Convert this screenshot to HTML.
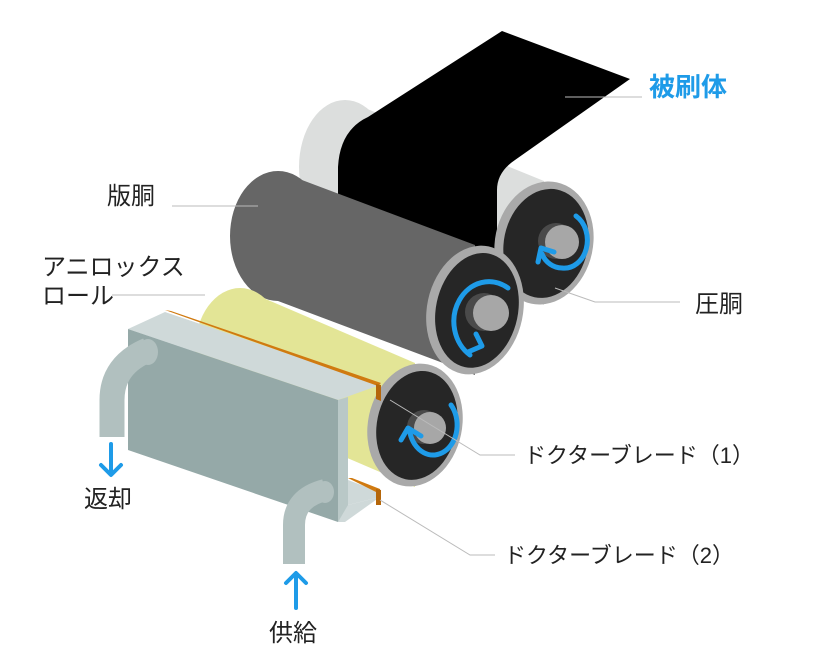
<!DOCTYPE html>
<html><head><meta charset="utf-8"><style>
html,body{margin:0;padding:0;background:#fff;}
svg{display:block}
text{font-family:"Liberation Sans","Noto Sans CJK JP",sans-serif;font-size:24px;fill:#222}
</style></head><body>
<svg width="832" height="672" viewBox="0 0 832 672" xmlns="http://www.w3.org/2000/svg">
<!-- impression cylinder -->
<ellipse cx="345" cy="167" rx="46" ry="67" fill="#dcdedd"/>
<polygon points="345,100 544,181 544,305 345,234" fill="#dcdedd"/>
<!-- paper -->
<path d="M338,250 L338,167 Q340,130 368,117 L502,31 L630,79 L515,160 Q497,172 497,190 L497,290 Z" fill="#000"/>
<!-- impression face -->
<g transform="rotate(12 544 243)">
<ellipse cx="544" cy="243" rx="49" ry="62" fill="#a9a9a9"/>
<ellipse cx="546" cy="243" rx="42" ry="55" fill="#262626"/>
</g>
<circle cx="556" cy="241" r="18" fill="#4a4a4a"/>
<circle cx="562" cy="242" r="17" fill="#a7a7a7"/>
<path d="M576,216 A23,28 0 0 1 562,268 A22,24 0 0 1 542,254" fill="none" stroke="#1e9be8" stroke-width="5" stroke-linecap="round"/>
<path d="M538,262 L541,248 L554,252" fill="none" stroke="#1e9be8" stroke-width="5" stroke-linecap="round" stroke-linejoin="round"/>
<!-- plate cylinder -->
<ellipse cx="278" cy="236" rx="48" ry="65" fill="#666"/>
<polygon points="278,171 475,245 475,375 278,301" fill="#666"/>
<g transform="rotate(12 475 310)">
<ellipse cx="475" cy="310" rx="48" ry="65" fill="#a9a9a9"/>
<ellipse cx="477" cy="310" rx="41" ry="58" fill="#262626"/>
</g>
<circle cx="484" cy="312" r="19" fill="#4a4a4a"/>
<circle cx="491" cy="313" r="18" fill="#a7a7a7"/>
<path d="M508,288 A30,34 0 1 0 470,355" fill="none" stroke="#1e9be8" stroke-width="5" stroke-linecap="round"/>
<path d="M476,334 L482,346 L468,352" fill="none" stroke="#1e9be8" stroke-width="5" stroke-linecap="round" stroke-linejoin="round"/>
<!-- anilox -->
<ellipse cx="240" cy="350" rx="45" ry="62" fill="#e3e596"/>
<polygon points="240,288 415,363 415,487 240,412" fill="#e3e596"/>
<g transform="rotate(12 415 425)">
<ellipse cx="415" cy="425" rx="47" ry="62" fill="#a9a9a9"/>
<ellipse cx="417" cy="425" rx="40" ry="55" fill="#262626"/>
</g>
<circle cx="424" cy="427" r="17" fill="#4a4a4a"/>
<circle cx="430" cy="428" r="16" fill="#a7a7a7"/>
<path d="M451,405 A24,30 0 1 1 410,433" fill="none" stroke="#1e9be8" stroke-width="5" stroke-linecap="round"/>
<path d="M401,440 L408,428 L421,436" fill="none" stroke="#1e9be8" stroke-width="5" stroke-linecap="round" stroke-linejoin="round"/>
<!-- doctor chamber box -->
<polygon points="128,329 165,312 380,385 338,400" fill="#cfd9d9"/>
<polygon points="165,310 171,311 381,383 378,386" fill="#d07a10"/>
<polygon points="376,384 381,385 381,401 376,399" fill="#b5660a"/>
<polygon points="128,329 338,400 338,522 128,450" fill="#95a9a8"/>
<polygon points="338,400 348,397 348,515 338,522" fill="#b9c8c7"/>
<polygon points="338,522 348,505 380,497 345,522" fill="#cfd9d9"/>
<polygon points="348,480 380,492 380,497 348,505" fill="#cfd9d9"/>
<polygon points="348,478 352,478 380,489 380,494" fill="#d07a10"/>
<polygon points="376,489 381,490 381,505 376,505" fill="#b5660a"/>
<!-- pipes -->
<path d="M112,437 L112,400 Q112,365 148,350" fill="none" stroke="#b1c0bf" stroke-width="25"/>
<ellipse cx="148" cy="352" rx="10" ry="13" fill="#b1c0bf"/>
<path d="M294,564 L294,525 Q294,498 325,490" fill="none" stroke="#b1c0bf" stroke-width="22"/>
<ellipse cx="325" cy="492" rx="9" ry="11" fill="#b1c0bf"/>
<!-- arrows -->
<g stroke="#1e9be8" stroke-width="4" fill="none" stroke-linecap="round" stroke-linejoin="round">
<line x1="111" y1="444" x2="111" y2="474"/><path d="M101,465 L111,475 L121,465"/>
<line x1="296" y1="574" x2="296" y2="608"/><path d="M286,583 L296,573 L306,583"/>
</g>
<!-- leader lines -->
<g stroke="#bbb" stroke-width="1" fill="none">
<line x1="565" y1="97" x2="642" y2="97"/>
<line x1="172" y1="206" x2="258" y2="206"/>
<line x1="112" y1="295" x2="205" y2="295"/>
<polyline points="555,288 595,302 680,302"/>
<polyline points="390,400 480,455 515,455"/>
<polyline points="380,500 470,555 495,555"/>
</g>
<!-- labels -->
<text x="649" y="96" style="fill:#1e9be8;font-weight:bold;font-size:26px">被刷体</text>
<text x="107" y="204">版胴</text>
<text x="42" y="275">アニロックス</text>
<text x="42" y="304">ロール</text>
<text x="695" y="312">圧胴</text>
<text x="524" y="463" style="font-size:22px">ドクターブレード（1）</text>
<text x="504" y="563" style="font-size:22px">ドクターブレード（2）</text>
<text x="84" y="507">返却</text>
<text x="269" y="641">供給</text>
</svg>
</body></html>
